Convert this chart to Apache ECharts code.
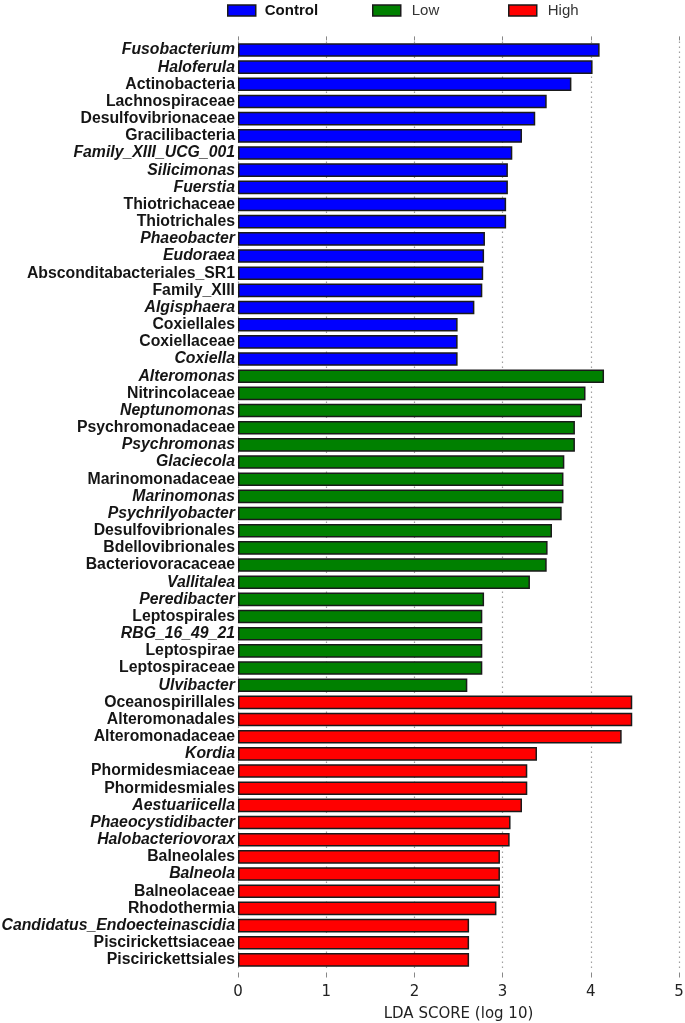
<!DOCTYPE html>
<html>
<head>
<meta charset="utf-8">
<script src="https://cdn.jsdelivr.net/npm/echarts@6/dist/echarts.min.js"></script>
<style>
  html, body { margin: 0; padding: 0; background: #fff; }
  #main { width: 685px; height: 1023px; }
</style>
</head>
<body>
<div id="main"></div>
<script>
// taxa per group, top to bottom
var controlTaxa = ['Fusobacterium', 'Haloferula', 'Actinobacteria', 'Lachnospiraceae', 'Desulfovibrionaceae',
  'Gracilibacteria', 'Family_XIII_UCG_001', 'Silicimonas', 'Fuerstia', 'Thiotrichaceae', 'Thiotrichales',
  'Phaeobacter', 'Eudoraea', 'Absconditabacteriales_SR1', 'Family_XIII', 'Algisphaera', 'Coxiellales',
  'Coxiellaceae', 'Coxiella'];
var controlScores = [4.10, 4.02, 3.78, 3.50, 3.37, 3.22, 3.11, 3.06, 3.06, 3.04, 3.04,
  2.80, 2.79, 2.78, 2.77, 2.68, 2.49, 2.49, 2.49];

var lowTaxa = ['Alteromonas', 'Nitrincolaceae', 'Neptunomonas', 'Psychromonadaceae', 'Psychromonas',
  'Glaciecola', 'Marinomonadaceae', 'Marinomonas', 'Psychrilyobacter', 'Desulfovibrionales',
  'Bdellovibrionales', 'Bacteriovoracaceae', 'Vallitalea', 'Peredibacter', 'Leptospirales',
  'RBG_16_49_21', 'Leptospirae', 'Leptospiraceae', 'Ulvibacter'];
var lowScores = [4.15, 3.94, 3.90, 3.82, 3.82, 3.70, 3.69, 3.69, 3.67, 3.56,
  3.51, 3.50, 3.31, 2.79, 2.77, 2.77, 2.77, 2.77, 2.60];

var highTaxa = ['Oceanospirillales', 'Alteromonadales', 'Alteromonadaceae', 'Kordia', 'Phormidesmiaceae',
  'Phormidesmiales', 'Aestuariicella', 'Phaeocystidibacter', 'Halobacteriovorax', 'Balneolales',
  'Balneola', 'Balneolaceae', 'Rhodothermia', 'Candidatus_Endoecteinascidia', 'Piscirickettsiaceae',
  'Piscirickettsiales'];
var highScores = [4.47, 4.47, 4.35, 3.39, 3.28, 3.28, 3.22, 3.09, 3.08, 2.97,
  2.97, 2.97, 2.93, 2.62, 2.62, 2.62];

// genus-level names are written in italics
var genusTaxa = ['Fusobacterium', 'Haloferula', 'Family_XIII_UCG_001', 'Silicimonas', 'Fuerstia',
  'Phaeobacter', 'Eudoraea', 'Algisphaera', 'Coxiella', 'Alteromonas', 'Neptunomonas', 'Psychromonas',
  'Glaciecola', 'Marinomonas', 'Psychrilyobacter', 'Vallitalea', 'Peredibacter', 'RBG_16_49_21',
  'Ulvibacter', 'Kordia', 'Aestuariicella', 'Phaeocystidibacter', 'Halobacteriovorax', 'Balneola',
  'Candidatus_Endoecteinascidia'];

var xTicks = [0, 1, 2, 3, 4, 5];

var categories = controlTaxa.concat(lowTaxa, highTaxa);

function pad(before, values, after) {
  var out = [];
  for (var i = 0; i < before; i++) out.push('-');
  out = out.concat(values);
  for (var j = 0; j < after; j++) out.push('-');
  return out;
}

var n = categories.length;
var controlData = pad(0, controlScores, n - controlScores.length);
var lowData = pad(controlScores.length, lowScores, highScores.length);
var highData = pad(controlScores.length + lowScores.length, highScores, 0);

var chart = echarts.init(document.getElementById('main'), null, { renderer: 'canvas' });

var barBorder = { borderColor: '#1a1a1a', borderWidth: 1.5 };
var legendBase = {
  top: 3,
  padding: 0,
  itemWidth: 28,
  itemHeight: 11,
  icon: 'rect',
  selectedMode: false,
  itemStyle: { borderColor: '#1a1a1a', borderWidth: 1.5 }
};

var option = {
  backgroundColor: '#fff',
  animation: false,
  legend: [
    Object.assign({}, legendBase, {
      left: 227, data: ['Control'],
      textStyle: { fontFamily: 'Liberation Sans', fontSize: 15, fontWeight: 'bold', color: '#111', padding: [0, 0, 0, 4] }
    }),
    Object.assign({}, legendBase, {
      left: 372, data: ['Low'],
      textStyle: { fontFamily: 'Liberation Sans', fontSize: 15, color: '#333', padding: [0, 0, 0, 6] }
    }),
    Object.assign({}, legendBase, {
      left: 508, data: ['High'],
      textStyle: { fontFamily: 'Liberation Sans', fontSize: 15, color: '#333', padding: [0, 0, 0, 6] }
    })
  ],
  grid: { left: 238, right: 6, top: 41.4, bottom: 54.5, containLabel: false, outerBoundsMode: 'none' },
  xAxis: [{
    type: 'value',
    position: 'bottom',
    min: xTicks[0],
    max: xTicks[xTicks.length - 1],
    interval: 1,
    offset: 4,
    name: 'LDA SCORE (log 10)',
    nameLocation: 'middle',
    nameGap: 34,
    nameTextStyle: { fontFamily: 'DejaVu Sans', fontSize: 15, color: '#222', verticalAlign: 'top' },
    axisLine: { show: false },
    axisTick: { show: true, length: 5, lineStyle: { color: '#888', width: 1 } },
    axisLabel: { fontFamily: 'DejaVu Sans', fontSize: 15, color: '#222', margin: 12 },
    splitLine: { show: true, lineStyle: { color: '#a0a0a0', type: [1.5, 3.5], width: 1.2 } }
  }, {
    type: 'value',
    position: 'top',
    min: xTicks[0],
    max: xTicks[xTicks.length - 1],
    interval: 1,
    offset: 1,
    axisLine: { show: false },
    axisTick: { show: true, length: 4, lineStyle: { color: '#888', width: 1 } },
    axisLabel: { show: false },
    splitLine: { show: false }
  }],
  yAxis: {
    type: 'category',
    inverse: true,
    data: categories,
    axisLine: { show: false },
    axisTick: { show: false },
    splitLine: { show: false },
    axisLabel: {
      interval: 0,
      margin: 3,
      formatter: function (v) {
        return genusTaxa.indexOf(v) >= 0 ? '{i|' + v + '}' : '{n|' + v + '}';
      },
      rich: {
        n: { fontFamily: 'Liberation Sans', fontSize: 15.8, fontWeight: 'bold', color: '#151515' },
        i: { fontFamily: 'Liberation Sans', fontSize: 15.8, fontWeight: 'bold', fontStyle: 'italic', color: '#151515' }
      }
    }
  },
  series: [{
    name: 'Control',
    type: 'bar',
    data: controlData,
    barWidth: 13.6,
    barGap: '-100%',
    itemStyle: Object.assign({ color: '#0000ff' }, barBorder)
  }, {
    name: 'Low',
    type: 'bar',
    data: lowData,
    barWidth: 13.6,
    barGap: '-100%',
    itemStyle: Object.assign({ color: '#008000' }, barBorder)
  }, {
    name: 'High',
    type: 'bar',
    data: highData,
    barWidth: 13.6,
    barGap: '-100%',
    itemStyle: Object.assign({ color: '#ff0000' }, barBorder)
  }]
};

chart.setOption(option);
</script>
</body>
</html>
